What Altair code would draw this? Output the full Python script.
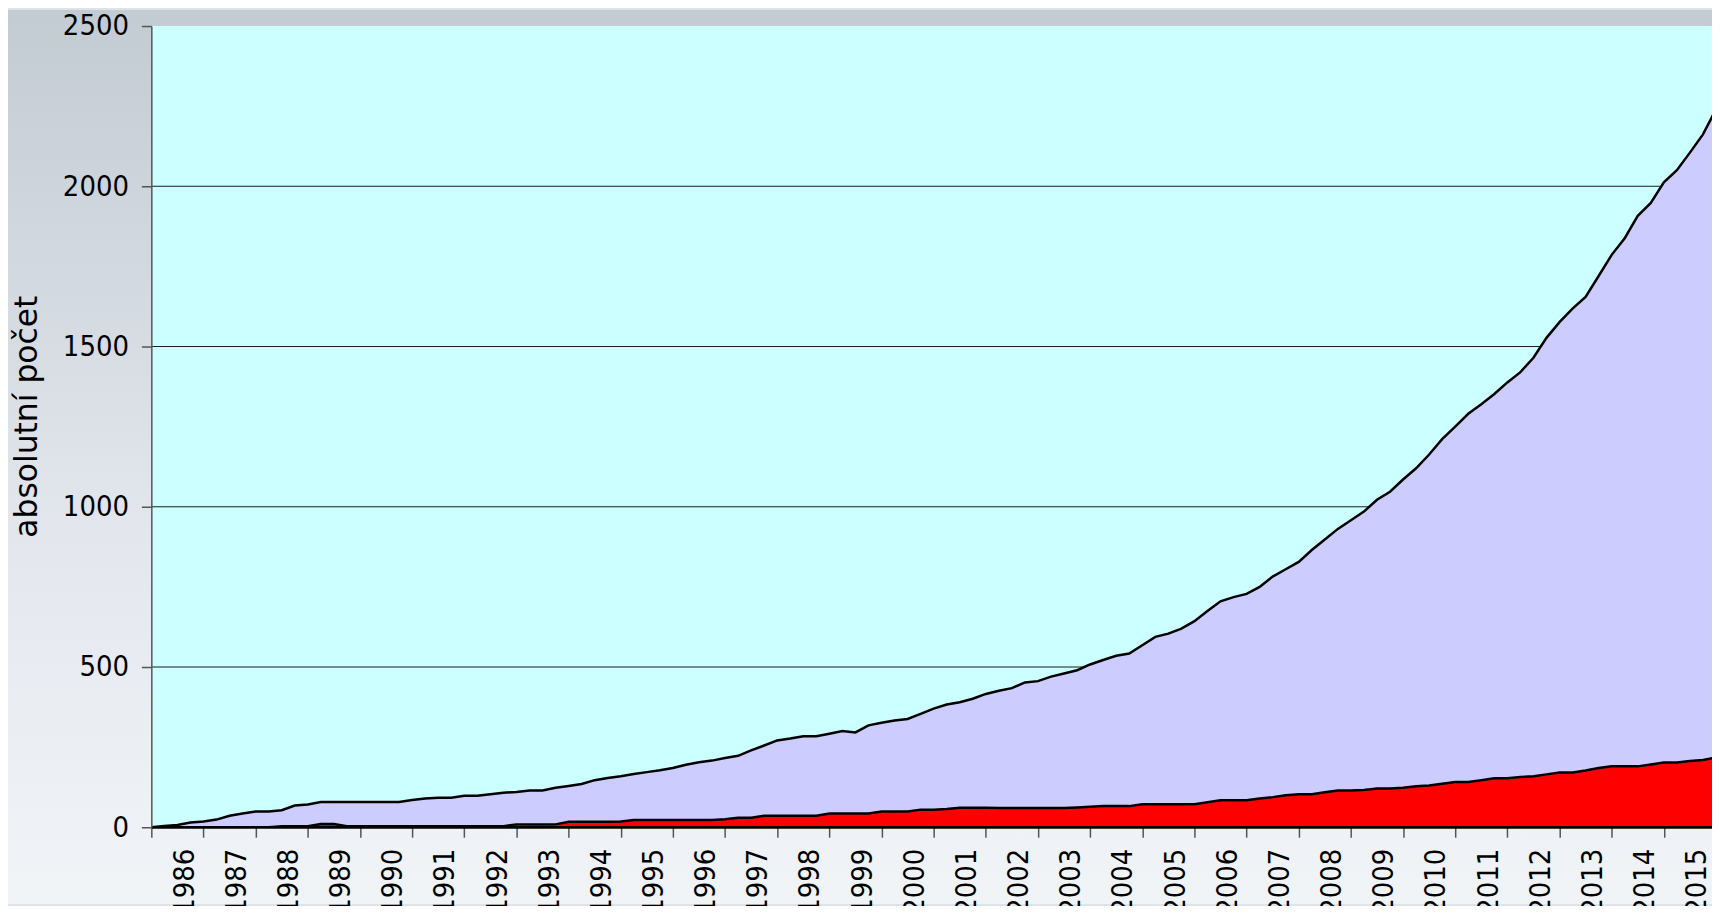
import altair as alt
import pandas as pd

total = [
    0, 4, 7, 15, 18, 24, 36, 43, 49, 49,
    53, 68, 71, 79, 79, 79, 79, 79, 79, 79,
    85, 90, 92, 92, 98, 98, 103, 108, 110, 115,
    115, 123, 129, 135, 147, 154, 159, 166, 172, 178,
    185, 195, 203, 208, 216, 223, 240, 255, 271, 277,
    284, 284, 292, 300, 296, 318, 326, 333, 338, 354,
    370, 383, 390, 401, 416, 426, 434, 452, 456, 470,
    480, 490, 508, 522, 535, 542, 568, 594, 604, 620,
    643, 675, 705, 718, 728, 750, 782, 805, 828, 865,
    898, 931, 958, 985, 1022, 1047, 1085, 1120, 1163, 1211,
    1250, 1290, 1320, 1352, 1388, 1420, 1465, 1527, 1576, 1618,
    1655, 1720, 1786, 1838, 1908, 1948, 2012, 2050, 2105, 2162,
    2240,
]
red = [
    0, 0, 0, 0, 0, 0, 0, 0, 0, 0,
    3, 3, 3, 10, 10, 3, 3, 3, 3, 3,
    3, 3, 3, 3, 3, 3, 3, 3, 9, 9,
    9, 9, 17, 17, 17, 17, 18, 23, 23, 23,
    23, 23, 23, 23, 25, 30, 30, 36, 36, 36,
    36, 36, 43, 43, 43, 43, 49, 49, 49, 55,
    55, 57, 61, 61, 61, 60, 60, 60, 60, 60,
    60, 62, 64, 66, 66, 66, 72, 72, 72, 72,
    72, 78, 84, 84, 84, 90, 94, 100, 103, 103,
    109, 115, 115, 116, 121, 121, 123, 128, 130, 136,
    141, 141, 147, 153, 153, 157, 159, 165, 171, 171,
    177, 185, 190, 190, 190, 196, 202, 202, 207, 210,
    218,
]
quarters = [1986 + i / 4 for i in range(len(total))]
year_ticks = list(range(1986, 2016))
y_ticks = [0, 500, 1000, 1500, 2000, 2500]
grid_values = [500, 1000, 1500, 2000]
y_title = "absolutní počet"

df = pd.DataFrame({"t": quarters, "total": total, "red": red})

W, H = 1568, 805
PAD_L, PAD_T, PAD_B = 144, 16, 77
X_END = 1986 + W / 52.4

xscale = alt.Scale(domain=[1986, X_END], nice=False, zero=False)
yscale = alt.Scale(domain=[0, 2500], nice=False)

label_font = "DejaVu Sans Condensed"

x_axis = alt.Axis(
    values=year_ticks, format="d", title=None, grid=False,
    labelAngle=270, labelOffset=33, labelPadding=11, labelFontSize=29,
    labelFont=label_font, labelColor="black", labelOverlap=False, labelFlush=False,
    tickSize=10, tickColor="#555555", tickWidth=1.5,
    domainColor="black", domainWidth=2, zindex=1,
)
y_axis = alt.Axis(
    values=y_ticks, format="d", grid=False, title=y_title,
    labelFontSize=29, labelFont=label_font, labelColor="black", labelPadding=13,
    tickSize=10, tickColor="#555555", tickWidth=1.5,
    domainColor="#555555", domainWidth=1.5,
    titleFont="DejaVu Sans", titleFontSize=31.5, titleFontWeight="normal", titleColor="black",
    titleAngle=270, titleAlign="center", titleBaseline="bottom", titleX=-108, titleY=392,
    zindex=1,
)

one = alt.Data(values=[{}])

bg = alt.Chart(one).mark_rect(
    fill=alt.LinearGradient(
        gradient="linear",
        stops=[
            alt.GradientStop(color="#c3cbd3", offset=0),
            alt.GradientStop(color="#d3d9e0", offset=0.3),
            alt.GradientStop(color="#e4e7ee", offset=0.6),
            alt.GradientStop(color="#f1f4f7", offset=1),
        ],
        x1=0, x2=0, y1=0, y2=1,
    )
).encode(
    x=alt.value(-PAD_L), x2=alt.value(W), y=alt.value(-PAD_T), y2=alt.value(H + PAD_B)
)

plot_bg = alt.Chart(one).mark_rect(fill="#ccffff").encode(
    x=alt.value(0), x2=alt.value(W), y=alt.value(0), y2=alt.value(H)
)

grid = alt.Chart(pd.DataFrame({"g": grid_values})).mark_rule(
    color="#1a1a1a", strokeWidth=1
).encode(y=alt.Y("g:Q", scale=yscale, axis=y_axis))

area_total = alt.Chart(df).mark_area(
    fill="#ccccff", stroke="black", strokeWidth=2.5, clip=True, interpolate="linear"
).encode(
    x=alt.X("t:Q", scale=xscale, axis=x_axis),
    y=alt.Y("total:Q", scale=yscale, axis=y_axis),
)

area_red = alt.Chart(df).mark_area(
    fill="#ff0000", stroke="black", strokeWidth=2.5, clip=True, interpolate="linear"
).encode(
    x=alt.X("t:Q", scale=xscale, axis=x_axis),
    y=alt.Y("red:Q", scale=yscale, axis=y_axis),
)

chart = alt.layer(bg, plot_bg, grid, area_total, area_red).properties(
    width=W, height=H,
    autosize=alt.AutoSizeParams(type="none"),
    padding={"left": PAD_L, "top": PAD_T, "right": 0, "bottom": PAD_B},
    background="#dde3e9",
).configure_view(stroke=None)

chart.save("out.html", embed_options={"renderer": "svg", "actions": False})
